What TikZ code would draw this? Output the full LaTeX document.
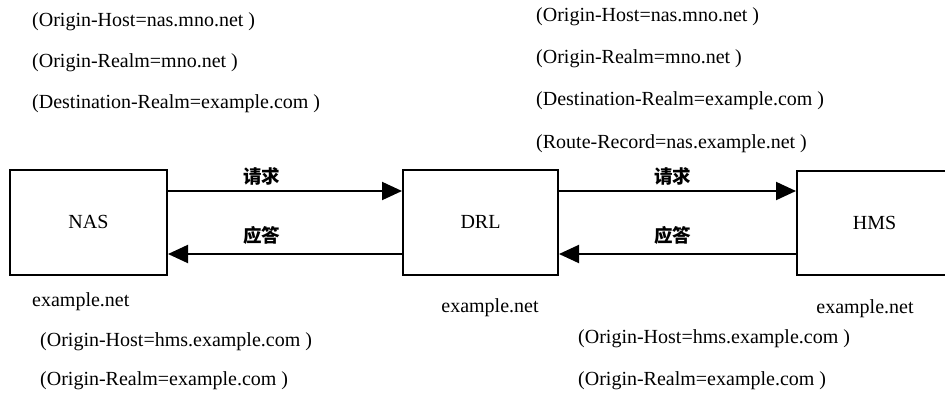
\documentclass[tikz,border=0pt]{standalone}
\usepackage{fontspec}
\setmainfont{Liberation Serif}
\newfontfamily\cjk{Noto Sans CJK SC}
\usetikzlibrary{arrows.meta}
\begin{document}
\begin{tikzpicture}[x=1pt,y=-1pt,
  box/.style={draw, line width=2pt, inner sep=0pt, font=\fontsize{20}{22}\selectfont},
  txt/.style={anchor=base west, inner sep=0pt, font=\fontsize{20}{22}\selectfont},
  ctxt/.style={anchor=base, inner sep=0pt, font=\fontsize{20}{22}\selectfont},
  arr/.style={line width=2pt, -{Triangle[length=20pt,width=18pt]}},
  lab/.style={inner sep=0pt, font=\cjk\bfseries\fontsize{18.5}{20}\selectfont}]
\useasboundingbox (0,0) rectangle (945,397);
% boxes
\node[box, minimum width=157pt, minimum height=105pt] (nas) at (88.5,222) {NAS};
\node[box, minimum width=155pt, minimum height=105pt] (drl) at (480.5,222) {DRL};
\node[box, minimum width=155pt, minimum height=104pt] (hms) at (874.5,223) {HMS};
% arrows
\draw[arr] ([yshift=31pt]nas.east) -- node[lab, pos=0.40, yshift=15pt] (q1) {请求} ([yshift=31pt]drl.west);
\draw[arr] ([yshift=-32pt]drl.west) -- node[lab, pos=0.60, yshift=19pt] (a1) {应答} ([yshift=-32pt]nas.east);
\draw[arr] ([yshift=31pt]drl.east) -- node[lab, pos=0.48, yshift=15pt] (q2) {请求} ([yshift=31pt]drl.east -| hms.west);
\draw[arr] ([yshift=-32pt]drl.east -| hms.west) -- node[lab, pos=0.52, yshift=19pt] (a2) {应答} ([yshift=-32pt]drl.east);
% top-left texts
\node[txt] (tl1) at (32,26) {(Origin-Host=nas.mno.net )};
\node[txt] (tl2) at (32,67) {(Origin-Realm=mno.net )};
\node[txt] (tl3) at (32,108) {(Destination-Realm=example.com )};
% top-right texts
\node[txt] (tr1) at (536,21) {(Origin-Host=nas.mno.net )};
\node[txt] (tr2) at (536,63) {(Origin-Realm=mno.net )};
\node[txt] (tr3) at (536,105) {(Destination-Realm=example.com )};
\node[txt] (tr4) at (536,148) {(Route-Record=nas.example.net )};
% realm labels
\node[txt] (nasr) at (32,306) {example.net};
\node[ctxt] (drlr) at (490,312) {example.net};
\node[ctxt] (hmsr) at (865,313) {example.net};
% bottom-left texts
\node[txt] (bl1) at (40,346) {(Origin-Host=hms.example.com )};
\node[txt] (bl2) at (40,385) {(Origin-Realm=example.com )};
% bottom-right texts
\node[txt] (br1) at (578,343) {(Origin-Host=hms.example.com )};
\node[txt] (br2) at (578,385) {(Origin-Realm=example.com )};
\end{tikzpicture}
\end{document}
